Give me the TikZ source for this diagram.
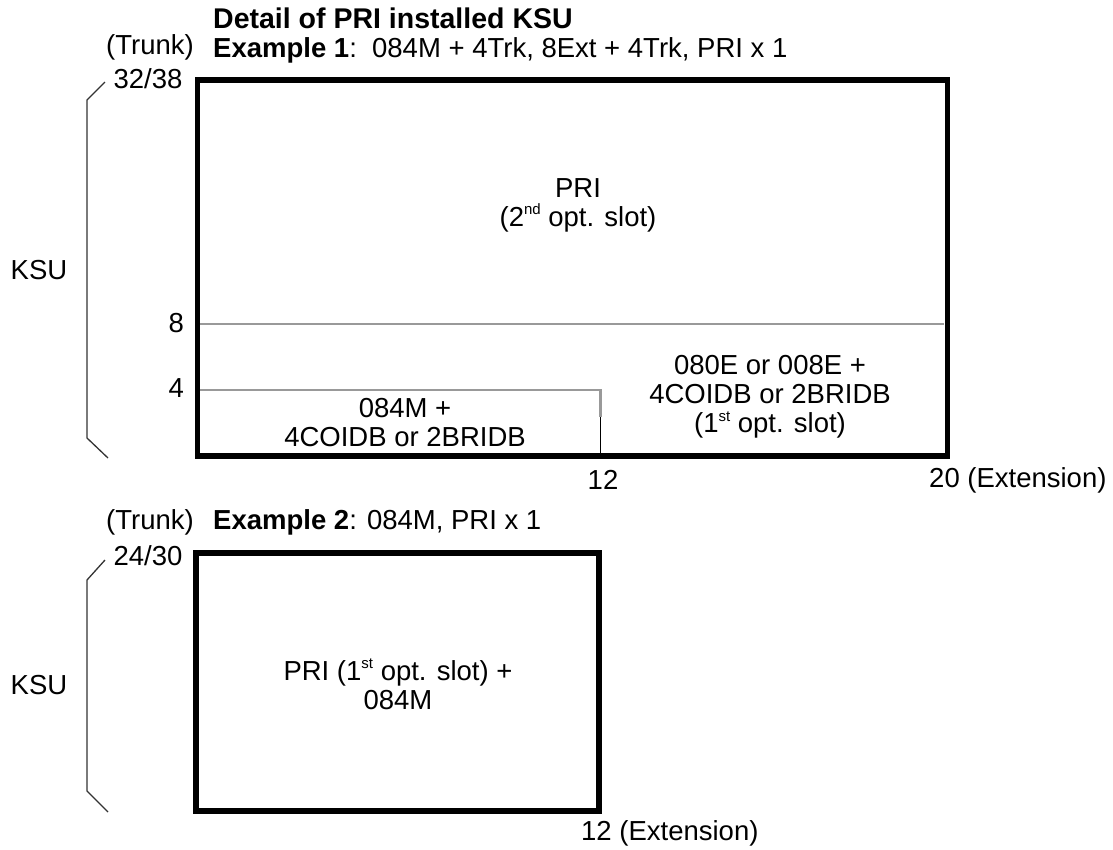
\documentclass[tikz,border=0pt]{standalone}
\usepackage{fontspec}
\setmainfont{Liberation Sans}
\newcommand\supx[1]{\raisebox{0.42em}{\fontsize{15}{15}\selectfont #1}}
\begin{document}
\begin{tikzpicture}[x=1pt,y=-1pt,
  lbl/.style={inner sep=0pt,align=center,font=\fontsize{27.5}{29}\selectfont},
  thick box/.style={line width=5.5pt,draw=black},
  grayline/.style={draw=black!40,line width=2.5pt},
  bracket/.style={draw=black!80,line width=1.3pt}]
\useasboundingbox (0,0) rectangle (1113,849);
% ---------- Example 1 ----------
\node[lbl,anchor=west,font=\fontsize{28.5}{29}\selectfont\bfseries] (title) at (213,18) {Detail of PRI installed KSU};
\node[lbl,anchor=west] (ex1) at (213,50) {\textbf{Example 1}:\ \ 084M + 4Trk, 8Ext + 4Trk, PRI x 1};
\node[lbl] (trunk1) at (150,47) {(Trunk)};
\node[lbl] (max1) at (148,79) {32/38};
\node[lbl] (ksu1) at (39,270) {KSU};
\node[lbl,anchor=east] (eight) at (184,323) {8};
\node[lbl,anchor=east] (four) at (184,388) {4};
\coordinate (b1tl) at (197.5,80);
\coordinate (b1br) at (947.5,456);
\draw[grayline] (200,324) -- (944,324);
\draw[grayline] (200,390) -- (600.5,390) -- (600.5,417);
\draw[line width=1.2pt] (600.5,417) -- (600.5,454);
\draw[thick box] (b1tl) rectangle (b1br);
\draw[bracket] (105,82) -- (87,100) -- (87,438) -- (108,458);
\node[lbl] (pri1) at (578,205) {PRI\\(2\supx{nd} opt. slot)};
\node[lbl] (opt1) at (770,397) {080E or 008E +\\4COIDB or 2BRIDB\\(1\supx{st} opt. slot)};
\node[lbl] (base1) at (405,423) {084M +\\4COIDB or 2BRIDB};
\node[lbl] (twelve1) at (603,480) {12};
\node[lbl,anchor=west] (ext1) at (929,480) {20 (Extension)};
% ---------- Example 2 ----------
\node[lbl] (trunk2) at (150,522) {(Trunk)};
\node[lbl,anchor=west] (ex2) at (213,522) {\textbf{Example 2}: 084M, PRI x 1};
\node[lbl] (max2) at (148,556) {24/30};
\node[lbl] (ksu2) at (39,685) {KSU};
\coordinate (b2tl) at (196,553);
\coordinate (b2br) at (599,811);
\draw[thick box] (b2tl) rectangle (b2br);
\draw[bracket] (105,560) -- (87,580) -- (87,791) -- (108,812);
\node[lbl] (pri2) at (398,684) {PRI (1\supx{st} opt. slot) +\\084M};
\node[lbl,anchor=west] (ext2) at (581,833) {12 (Extension)};
\end{tikzpicture}
\end{document}
